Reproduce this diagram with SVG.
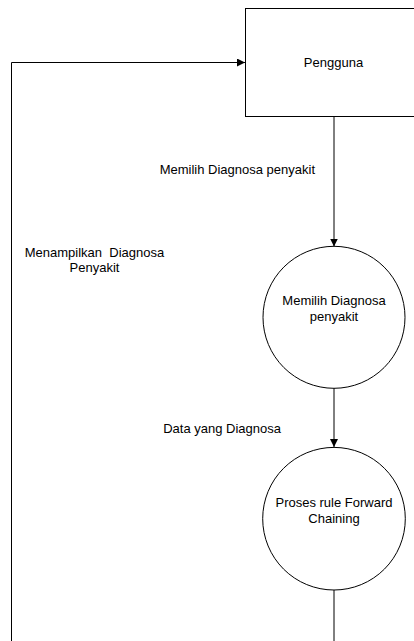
<svg xmlns="http://www.w3.org/2000/svg" width="414" height="641" viewBox="0 0 414 641">
<style>
.shape{fill:#fff;stroke:#000;stroke-width:1}
.line{fill:none;stroke:#000;stroke-width:1}
text{font-family:"Liberation Sans",Arial,sans-serif;font-size:13px;fill:#000}
</style>
<defs>
<marker id="arr" viewBox="0 0 8 8" refX="8" refY="4" markerWidth="8" markerHeight="8" markerUnits="userSpaceOnUse" orient="auto">
<path d="M0,0 L8,4 L0,8 Z" fill="#000"/>
</marker>
</defs>
<rect width="414" height="641" fill="#fff"/>
<g id="connectors">
<path class="line" d="M334,116.5 V246.5" marker-end="url(#arr)"/>
<path class="line" d="M334,388 V447" marker-end="url(#arr)"/>
<path class="line" d="M334,590 V641"/>
<path class="line" d="M11.5,641 V62.5 H245" marker-end="url(#arr)"/>
<text x="315" y="174" text-anchor="end">Memilih Diagnosa penyakit</text>
<text x="94.5" y="256.5" text-anchor="middle" xml:space="preserve">Menampilkan  Diagnosa</text>
<text x="94.5" y="271.5" text-anchor="middle">Penyakit</text>
<text x="281" y="433" text-anchor="end">Data yang Diagnosa</text>
</g>
<g id="pengguna">
<rect class="shape" x="245.5" y="8.5" width="180" height="108"/>
<text x="333.5" y="67" text-anchor="middle">Pengguna</text>
</g>
<g id="memilih">
<circle class="shape" cx="334" cy="317.3" r="71"/>
<text x="334" y="305" text-anchor="middle">Memilih Diagnosa</text>
<text x="334" y="320.5" text-anchor="middle">penyakit</text>
</g>
<g id="proses">
<circle class="shape" cx="334" cy="518.7" r="71.3"/>
<text x="334" y="506.5" text-anchor="middle">Proses rule Forward</text>
<text x="334" y="522.5" text-anchor="middle">Chaining</text>
</g>
</svg>
